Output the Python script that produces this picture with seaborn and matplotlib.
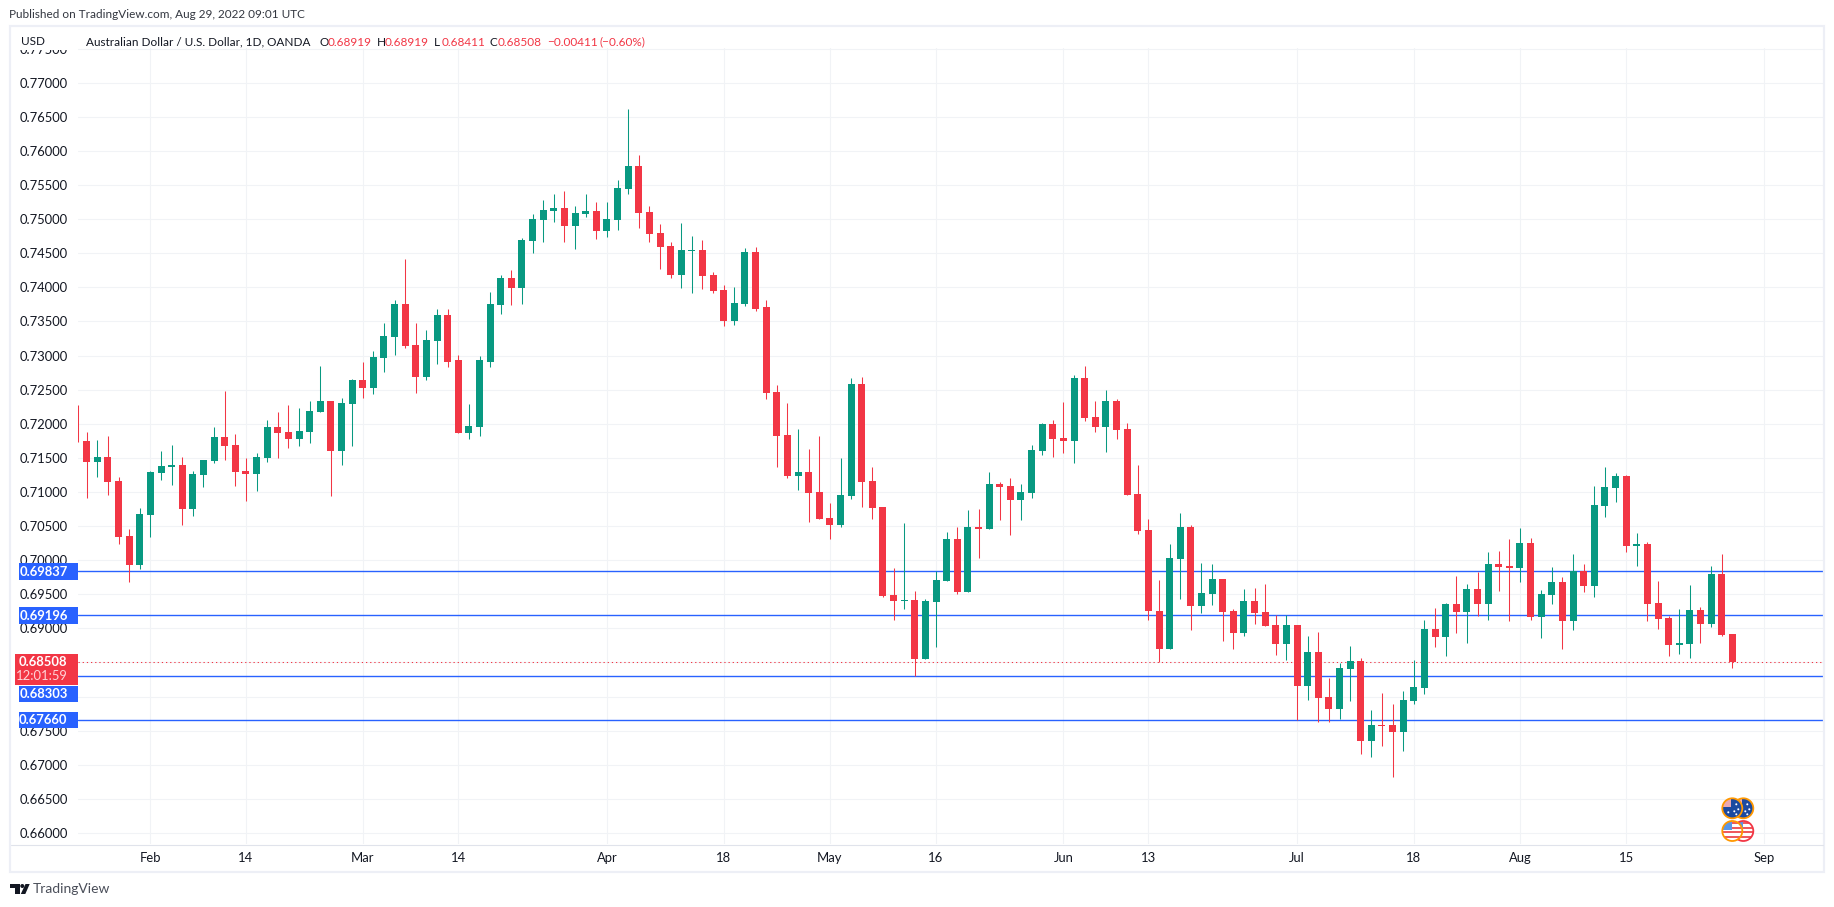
import numpy as np
import pandas as pd
import seaborn as sns
from matplotlib import pyplot as plt
from matplotlib.patches import Circle, Polygon, Rectangle

# AUD/USD daily candles. index 0 = Feb 1, trading days only
opens = [
    .71746, .71438, .71511, .71159, .70352, .69927,
    .70660, .71276, .71364, .71394, .70748, .71247, .71452, .71804, .71687, .71306,
    .71262, .71496, .71951, .71878, .71775, .71878, .72171, .72333, .71599, .72289,
    .72641, .72523, .72963, .73271, .73756, .73154, .72685, .73213, .73594, .72929,
    .71858, .71946, .72905, .73741, .74137, .73990, .74680, .74988, .75120, .75164,
    .74900, .75076, .75120, .74826, .74988, .75443, .75780, .75105, .74797, .74606,
    .74181, .74533, .74548, .74181, .73961, .73506, .73755, .74518, .73707, .72460,
    .71829, .71227, .71286, .70993, .70611, .70509, .70934, .72577, .71154, .70773,
    .69482, .69394, .69408, .68543, .69379, .69687, .70303, .69526, .70479, .70450,
    .71110, .71081, .70875, .70978, .71594, .71990, .71785, .71741, .72665, .72093,
    .71946, .72328, .71917, .70963, .70435, .69259, .68703, .70021, .70489, .69333,
    .69508, .69728, .69259, .68937, .69406, .69245, .69054, .68776, .69054, .68147,
    .68659, .67986, .67810, .68410, .68527, .67342, .67576, .67576, .67473, .67927,
    .68118, .68996, .68879, .69362, .69245, .69582, .69362, .69948, .69918, .69889,
    .70255, .69172, .69494, .69684, .69113, .69840, .69625, .70797, .71060, .71236,
    .70211, .70240, .69377, .69157, .68762, .68776, .69274, .69069, .69801, .68919,
]
highs = [
    .71878, .71760, .71819, .71218, .70455, .70763,
    .71306, .71599, .71687, .71511, .71306, .71467, .71951, .72479, .71848, .71496,
    .71570, .72054, .72171, .72274, .72230, .72333, .72846, .72333, .72377, .72655,
    .72905, .73066, .73477, .73814, .74416, .73477, .73374, .73682, .73682, .73007,
    .72284, .72988, .73932, .74181, .74254, .74724, .75076, .75281, .75369, .75413,
    .75193, .75369, .75252, .75252, .75575, .76616, .75941, .75193, .74929, .74665,
    .74944, .74753, .74694, .74225, .74034, .74005, .74577, .74592, .73809, .72562,
    .72298, .71917, .71623, .71814, .70831, .71491, .72665, .72680, .71359, .70773,
    .69878, .70538, .69540, .69423, .69839, .70406, .70479, .70729, .70743, .71286,
    .71139, .71198, .71110, .71682, .72005, .72049, .72313, .72709, .72841, .72328,
    .72489, .72357, .72005, .71389, .70597, .69713, .70240, .70694, .70518, .69962,
    .69948, .69728, .69289, .69582, .69596, .69655, .69201, .69201, .69054, .68893,
    .68952, .68264, .68484, .68747, .68571, .67795, .68044, .67883, .68074, .68542,
    .69128, .69303, .69377, .69772, .69655, .69830, .70123, .70138, .70314, .70475,
    .70328, .69567, .69904, .69757, .70094, .69948, .71089, .71368, .71280, .71250,
    .70401, .70270, .69699, .69186, .69289, .69640, .69318, .69918, .70094, .68919,
]
lows = [
    .70910, .71218, .70954, .70235, .69677, .69868,
    .70337, .71174, .71100, .70513, .70645, .71071, .71423, .71467, .71086, .70866,
    .71012, .71438, .71496, .71643, .71672, .71716, .72171, .70939, .71394, .71672,
    .72377, .72435, .72758, .73007, .73110, .72450, .72641, .72875, .72831, .71858,
    .71770, .71814, .72831, .73609, .73741, .73755, .74504, .74665, .74958, .74665,
    .74562, .75032, .74709, .74738, .74841, .75369, .74870, .74665, .74269, .74137,
    .73990, .73917, .73976, .73917, .73433, .73447, .73726, .73653, .72357, .71359,
    .71198, .71022, .70553, .70597, .70303, .70479, .70890, .70773, .70597, .69452,
    .69115, .69276, .68303, .68543, .68733, .69687, .69496, .69526, .70024, .70450,
    .70582, .70362, .70582, .70905, .71535, .71506, .71565, .71418, .72034, .71873,
    .71579, .71770, .70949, .70377, .69115, .68513, .68703, .69435, .68981, .69230,
    .69347, .68820, .68703, .68893, .69069, .69040, .68615, .68542, .67649, .67942,
    .67620, .67620, .67664, .67927, .67151, .67107, .67268, .66814, .67195, .67883,
    .68030, .68732, .68601, .68937, .68791, .69176, .69128, .69552, .69113, .69684,
    .69128, .68864, .69362, .68703, .68981, .69538, .69464, .70636, .70855, .70123,
    .69918, .69113, .68996, .68601, .68630, .68571, .68791, .69025, .68893, .68411,
]
closes = [
    .71438, .71511, .71144, .70337, .69927, .70675,
    .71291, .71379, .71394, .70748, .71262, .71467, .71804, .71672, .71291, .71262,
    .71511, .71951, .71863, .71775, .71892, .72186, .72333, .71599, .72303, .72641,
    .72523, .72978, .73286, .73756, .73139, .72685, .73227, .73594, .72905, .71858,
    .71961, .72929, .73755, .74137, .73990, .74694, .75002, .75134, .75164, .74900,
    .75090, .75120, .74826, .75002, .75457, .75780, .75090, .74782, .74592, .74181,
    .74548, .74548, .74166, .73946, .73506, .73770, .74518, .73682, .72445, .71814,
    .71227, .71286, .70978, .70597, .70509, .70949, .72577, .71139, .70758, .69467,
    .69394, .69408, .68543, .69394, .69702, .70303, .69526, .70479, .70450, .71110,
    .71066, .70875, .70993, .71609, .71990, .71770, .71741, .72665, .72078, .71946,
    .72328, .71902, .70949, .70421, .69247, .68703, .70035, .70489, .69333, .69523,
    .69728, .69245, .68937, .69406, .69230, .69040, .68776, .69054, .68147, .68659,
    .67971, .67810, .68425, .68527, .67342, .67576, .67561, .67473, .67942, .68132,
    .68996, .68879, .69362, .69245, .69582, .69362, .69948, .69904, .69889, .70255,
    .69172, .69508, .69684, .69113, .69840, .69625, .70811, .71075, .71236, .70211,
    .70240, .69362, .69142, .68762, .68791, .69274, .69069, .69801, .68908, .68508,
]
# the candle cut off at the left edge, only its wick shows
cut_wick_x = -6.8
cut_wick_high = .72274
cut_wick_low = .71736

first_index = -6
date_ticks = [0, 9, 20, 29, 43, 54, 64, 74, 86, 94, 108, 119, 129, 139, 152]
date_labels = ["Feb", "14", "Mar", "14", "Apr", "18", "May", "16", "Jun", "13", "Jul", "18", "Aug", "15", "Sep"]
price_ticks = [.66, .665, .67, .675, .68, .685, .69, .695, .70, .705, .71, .715, .72, .725, .73, .735, .74,
               .745, .75, .755, .76, .765, .77, .775]
level_lines = [.69837, .69196, .68303, .67660]
last_price = .68508

GREEN = "#089981"
RED = "#F23645"
BLUE = "#2962FF"
GRID = "#F1F3F6"
FRAME = "#EDEFF6"
INK = "#131722"
FONT = "Lato"
W, H = 1834, 907

sns.set_theme(style="white")
plt.rcParams["font.family"] = [FONT, "DejaVu Sans"]

df = pd.DataFrame({"open": opens, "high": highs, "low": lows, "close": closes})
df["x"] = np.arange(len(df)) + first_index
df["up"] = df["close"] >= df["open"]
df["body"] = (df["close"] - df["open"]).abs()
df["base"] = df[["open", "close"]].min(axis=1)

fig = plt.figure(figsize=(W / 100, H / 100), dpi=100, facecolor="white")
left, right, top, bottom = 78, 1823, 48, 844
ax = fig.add_axes([left / W, 1 - bottom / H, (right - left) / W, (bottom - top) / H])
ax.set_facecolor("white")
for s in ax.spines.values():
    s.set_visible(False)

for up, colour in [(True, GREEN), (False, RED)]:
    part = df[df["up"] == up]
    sns.barplot(data=part, x="x", y="body", bottom=part["base"].values, native_scale=True, color=colour,
                saturation=1, errorbar=None, width=0.66, linewidth=0, zorder=4, ax=ax)
    ax.vlines(part["x"], part["low"], part["high"], color=colour, linewidth=0.75, zorder=3)
ax.vlines([cut_wick_x], cut_wick_low, cut_wick_high, color=RED, linewidth=0.75, zorder=3)

for level in level_lines:
    ax.axhline(level, color=BLUE, linewidth=1.0, zorder=2)
ax.axhline(last_price, color=RED, linewidth=0.75, linestyle=(0, (1.2, 2.8)), zorder=2)

ax.set_xlim((left - 150.4) / 10.617, (right - 150.4) / 10.617)
ax.set_ylim(.74 - (bottom - 287.3) / 6820, .74 - (top - 287.3) / 6820)
ax.set_xticks(date_ticks)
ax.set_xticklabels(date_labels)
ax.set_yticks(price_ticks)
ax.set_yticklabels(["%.5f" % p for p in price_ticks])
ax.set_xlabel("")
ax.set_ylabel("")
ax.tick_params(axis="both", length=0, labelsize=9.4, labelcolor=INK)
ax.tick_params(axis="y", pad=7.2)
ax.tick_params(axis="x", pad=6)
ax.grid(True, color=GRID, linewidth=0.8, zorder=0)
ax.set_axisbelow(True)

# everything around the plot is placed in pixels on a full-figure overlay
ov = fig.add_axes([0, 0, 1, 1], zorder=5)
ov.set_xlim(0, W)
ov.set_ylim(H, 0)
ov.axis("off")
ov.patch.set_alpha(0)

ov.add_patch(Rectangle((11, 27), right - 11, top - 27.5, facecolor="white", edgecolor="none"))
ov.add_patch(Rectangle((11, 27), left - 11, 23, facecolor="white", edgecolor="none"))
ov.add_patch(Rectangle((10, 26), right + 1 - 10, 846, fill=False, edgecolor=FRAME, linewidth=1.6))
ov.plot([11, right], [844.5, 844.5], color="#E0E3EB", linewidth=0.8)


def txt(x, y, s, colour=INK, size=9.4, ha="left", weight="normal"):
    ov.text(x, y, s, color=colour, fontsize=size, ha=ha, va="center", fontweight=weight)


HEAD = 8.5
txt(9, 14.5, "Published on TradingView.com, Aug 29, 2022 09:01 UTC", colour="#333740", size=HEAD)
txt(20.5, 41.5, "USD", size=HEAD)
txt(86, 42, "Australian Dollar / U.S. Dollar, 1D, OANDA", size=HEAD)
for x, s in [(319, "O"), (377, "H"), (434, "L"), (489.4, "C")]:
    txt(x, 42, s, size=HEAD)
for x, s in [(327.7, "0.68919"), (384.7, "0.68919"), (442, "0.68411"), (497.4, "0.68508"),
             (546.8, "\u22120.00411"), (599, "(\u22120.60%)")]:
    txt(x, 42, s, colour=RED, size=HEAD)

for y0, y1, s in [(563, 580, "0.69837"), (607, 624, "0.69196"), (686, 702, "0.68303"), (712, 728, "0.67660")]:
    ov.add_patch(Rectangle((19, y0), 59, y1 - y0, facecolor=BLUE, edgecolor="none"))
    txt(67.5, (y0 + y1) / 2, s, colour="white", ha="right", weight="bold")
ov.add_patch(Rectangle((15, 654), 63, 31, facecolor=RED, edgecolor="none"))
txt(67.5, 662.5, "0.68508", colour="white", ha="right", weight="bold")
txt(67.5, 676.5, "12:01:59", colour="#FFD3D7", ha="right")


def flag(cx, cy, ring, kind):
    disc = Circle((cx, cy), 10, facecolor="white", edgecolor="none")
    ov.add_patch(disc)
    parts = []
    if kind == "au":
        parts.append(Rectangle((cx - 11, cy - 11), 22, 22, facecolor="#1B4AA0"))
        parts.append(Rectangle((cx - 10, cy - 10), 9, 9, facecolor="#E9A9B3"))
        for dx, dy in [(4, -4), (6, 1), (2, 3), (4, 6), (-4, 4)]:
            parts.append(Circle((cx + dx, cy + dy), 1, facecolor="white"))
    else:
        for dy in [-9, -4.5, 0, 4.5]:
            parts.append(Rectangle((cx - 11, cy + dy), 22, 2.2, facecolor="#EE5A5F"))
        parts.append(Rectangle((cx - 11, cy - 11), 11, 10, facecolor="#5A96E6"))
    for p in parts:
        p.set_edgecolor("none")
        ov.add_patch(p)
        p.set_clip_path(disc)
    ov.add_patch(Circle((cx, cy), 10, fill=False, edgecolor=ring, linewidth=1.3))


flag(1743.3, 808.3, "#FF9800", "au")
flag(1732.3, 808.3, "#FF9800", "au")
flag(1743.3, 831, RED, "us")
flag(1732.3, 831, "#FF9800", "us")

# TradingView logo and name
ov.add_patch(Polygon([(10, 884), (19.5, 884), (19.5, 894), (14.5, 894), (14.5, 888), (10, 888)],
                     facecolor="#131722", edgecolor="none"))
ov.add_patch(Circle((22.3, 886), 2, facecolor="#131722", edgecolor="none"))
ov.add_patch(Polygon([(25.5, 884), (29.7, 884), (25.3, 894), (20.8, 894)], facecolor="#131722", edgecolor="none"))
txt(33, 889, "TradingView", colour="#4A4E59", size=10)

fig.savefig("out.png", dpi=100)
